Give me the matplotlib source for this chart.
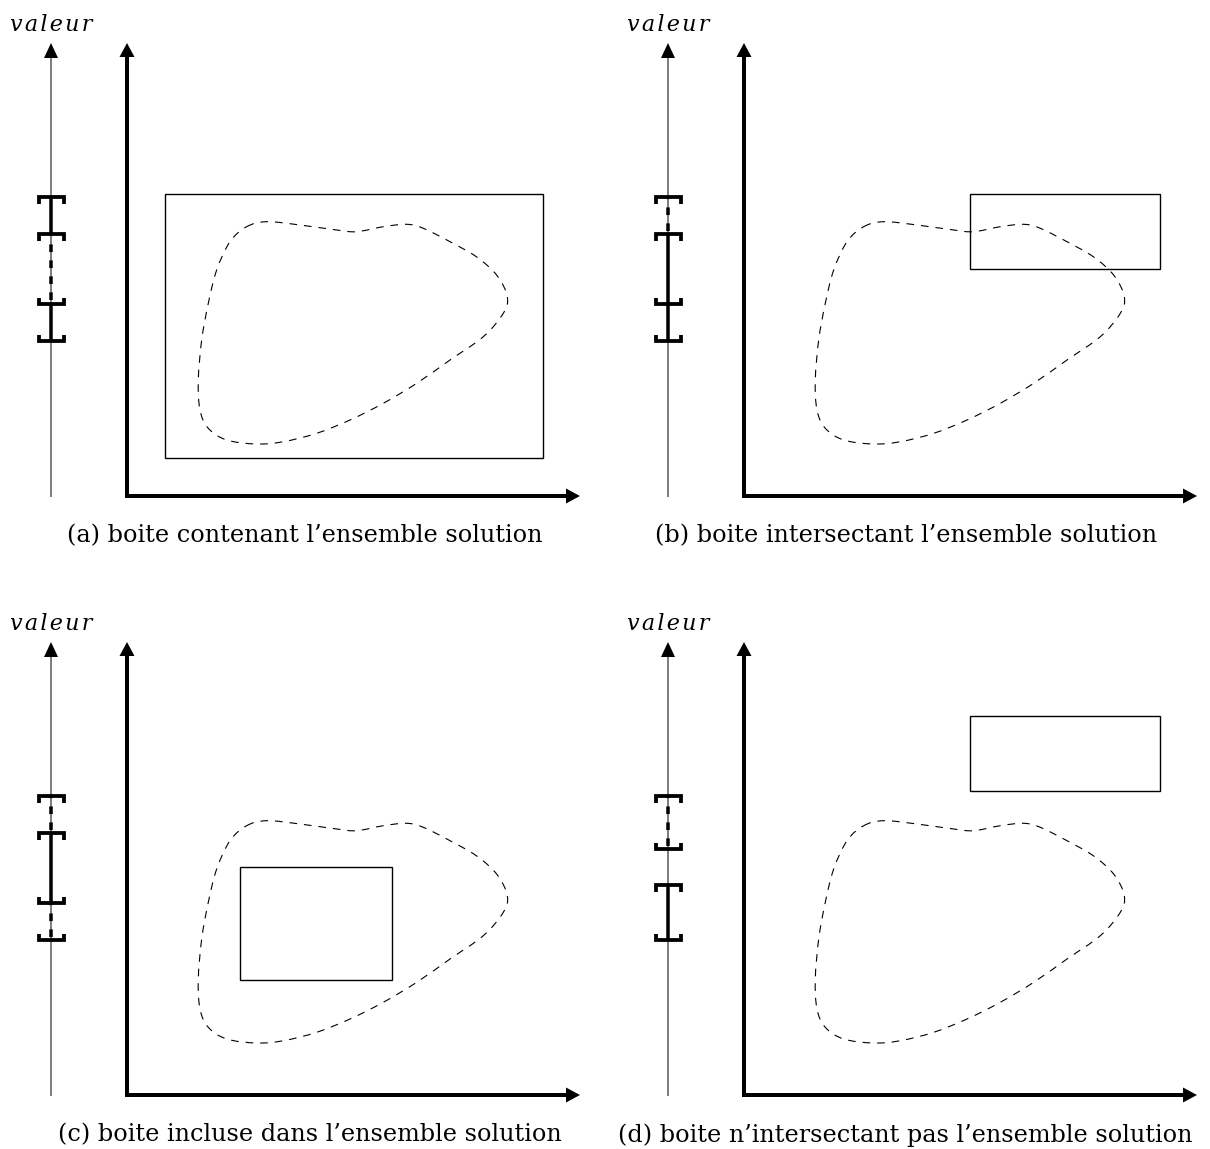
import numpy as np
import matplotlib
matplotlib.use("Agg")
import matplotlib.pyplot as plt
from matplotlib.path import Path
from matplotlib.patches import PathPatch, Rectangle, FancyArrow
from matplotlib.lines import Line2D

plt.rcParams['lines.scale_dashes'] = False

# ---------------- data (panel-local pixel coordinates) ----------------
PANEL_DX = [0, 617, 0, 617]
PANEL_DY = [0, 0, 599, 599]

CAPTIONS = ["(a) boite contenant l\u2019ensemble solution",
            "(b) boite intersectant l\u2019ensemble solution",
            "(c) boite incluse dans l\u2019ensemble solution",
            "(d) boite n\u2019intersectant pas l\u2019ensemble solution"]
CAPTION_X = [305, 906, 310, 905]
CAPTION_Y = [536, 536, 1135, 1135]
AXIS_LABEL = "v\u200aa\u200al\u200ae\u200au\u200ar"

# solution-set contour (same in every panel)
BLOB_X = [246.7, 266.7, 300.0, 336.7, 356.7, 383.3, 406.7, 423.3, 450.0, 476.7,
          497.0, 507.3, 503.3, 483.3, 450.0, 416.7, 383.3, 350.0, 316.7, 283.3,
          256.7, 226.7, 208.3, 200.0, 198.3, 201.7, 208.3, 216.7, 230.0]
BLOB_Y = [226.7, 221.7, 225.0, 230.0, 231.7, 226.7, 224.3, 228.3, 241.7, 257.0,
          275.5, 296.7, 313.3, 336.7, 360.0, 383.3, 403.3, 420.0, 433.3, 441.7,
          444.0, 440.0, 428.3, 410.0, 380.0, 340.0, 303.3, 270.0, 241.7]

# boxes: x0, x1, y0, y1
BOX_X0 = [164.7, 353.3, 240.0, 353.3]
BOX_X1 = [542.7, 542.7, 391.7, 542.7]
BOX_Y0 = [194.0, 194.0, 267.7, 116.7]
BOX_Y1 = [457.7, 269.0, 381.0, 192.3]

# interval brackets on the value axis
BRACKET_Y = [[197, 234, 304, 341],
             [197, 234, 304, 341],
             [197, 234, 304, 341],
             [197, 250, 286, 341]]
BRACKET_KIND = [["top", "top", "bottom", "bottom"],
                ["top", "top", "bottom", "bottom"],
                ["top", "top", "bottom", "bottom"],
                ["top", "bottom", "top", "bottom"]]
SEGMENT_STYLE = [["solid", "dashed", "solid"],
                 ["dashed", "solid", "solid"],
                 ["dashed", "solid", "dashed"],
                 ["dashed", "none", "solid"]]

# ---------------- figure ----------------
PX = 0.72  # points per pixel at dpi 100
fig = plt.figure(figsize=(12.10, 11.49), dpi=100)
ax = fig.add_axes([0, 0, 1, 1])
ax.set_xlim(0, 1210)
ax.set_ylim(1149, 0)
ax.axis('off')


def blob_path(xs, ys, dx, dy):
    P = np.column_stack([np.array(xs) + dx, np.array(ys) + dy])
    n = len(P)
    verts = [P[0]]
    codes = [Path.MOVETO]
    for i in range(n):
        p0, p1, p2, p3 = P[i - 1], P[i], P[(i + 1) % n], P[(i + 2) % n]
        c1 = p1 + (p2 - p0) / 6.0
        c2 = p2 - (p3 - p1) / 6.0
        verts += [c1, c2, p2]
        codes += [Path.CURVE4] * 3
    return Path(verts, codes)


AX_V_X = 127
AX_THIN_X = 51
AX_BOTTOM = 496
AX_TOP = 43
AX_RIGHT = 580
BR_HALF = 12.5
BR_TICK = 6.5

for k in range(4):
    dx, dy = PANEL_DX[k], PANEL_DY[k]
    # thick 2D axes
    ax.add_patch(FancyArrow(AX_V_X + dx, AX_BOTTOM + 2 + dy, 0, AX_TOP - AX_BOTTOM - 2,
                            width=4, head_width=15, head_length=14,
                            length_includes_head=True, color='black', lw=0))
    ax.add_patch(FancyArrow(AX_V_X - 2 + dx, AX_BOTTOM + dy, AX_RIGHT - AX_V_X + 2, 0,
                            width=4, head_width=15, head_length=14,
                            length_includes_head=True, color='black', lw=0))
    # thin value axis
    ax.add_patch(FancyArrow(AX_THIN_X + dx, AX_BOTTOM + 1 + dy, 0, AX_TOP - AX_BOTTOM - 1,
                            width=1.0, head_width=14, head_length=15,
                            length_includes_head=True, color='black', lw=0))
    ax.text(10 + dx, 31 + dy, AXIS_LABEL, family='DejaVu Serif', style='italic',
            fontsize=16, ha='left', va='baseline')
    # solution set
    ax.add_patch(PathPatch(blob_path(BLOB_X, BLOB_Y, dx, dy), fill=False,
                           ec='black', lw=0.8, linestyle=(0, (5.5, 5.0))))
    # box
    ax.add_patch(Rectangle((BOX_X0[k] + dx, BOX_Y0[k] + dy),
                           BOX_X1[k] - BOX_X0[k], BOX_Y1[k] - BOX_Y0[k],
                           fill=False, ec='black', lw=1.0))
    # interval segments
    ys = BRACKET_Y[k]
    for j, st in enumerate(SEGMENT_STYLE[k]):
        if st == "none":
            continue
        ls = '-' if st == "solid" else (4.0, (5.5, 6.0))
        ax.add_line(Line2D([AX_THIN_X + dx, AX_THIN_X + dx],
                           [ys[j] + dy, ys[j + 1] + dy],
                           color='black', lw=3.5 * PX, linestyle=ls,
                           solid_capstyle='butt', dash_capstyle='butt'))
    # brackets
    for y, kind in zip(ys, BRACKET_KIND[k]):
        t = BR_TICK if kind == "top" else -BR_TICK
        xl, xr = AX_THIN_X - BR_HALF + dx, AX_THIN_X + BR_HALF + dx
        ax.add_line(Line2D([xl, xl, xr, xr],
                           [y + t + dy, y + dy, y + dy, y + t + dy],
                           color='black', lw=3.8 * PX,
                           solid_joinstyle='miter', solid_capstyle='butt'))
    # caption
    ax.text(CAPTION_X[k], CAPTION_Y[k], CAPTIONS[k], family='DejaVu Serif',
            fontsize=17.2, ha='center', va='center')

fig.savefig("out.png", dpi=100)
